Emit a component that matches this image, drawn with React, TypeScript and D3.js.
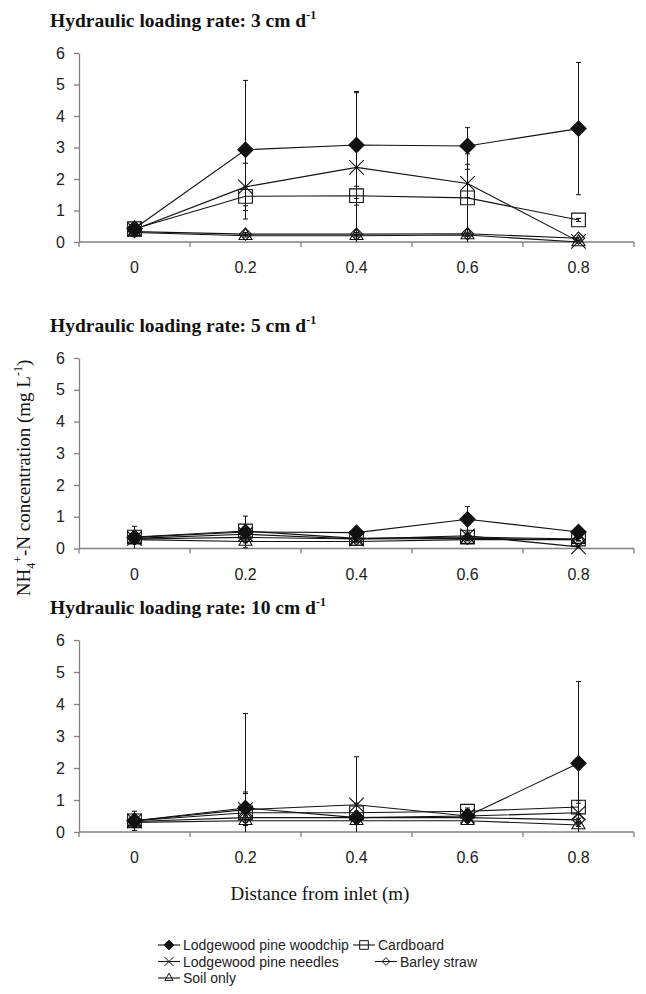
import React, { useEffect, useRef } from 'react'
import * as d3 from 'd3'

const DISTANCES = ['0', '0.2', '0.4', '0.6', '0.8']
const Y_TICKS = [0, 1, 2, 3, 4, 5, 6]
const RATES = ['3', '5', '10']

// Hydraulic loading rate 3 cm/d
const WOODCHIP_3 = [0.43, 2.93, 3.08, 3.05, 3.6]
const WOODCHIP_3_SD = [0.08, 2.2, 1.7, 0.58, 2.1]
const CARDBOARD_3 = [0.42, 1.45, 1.47, 1.4, 0.7]
const CARDBOARD_3_SD = [0.08, 0.3, 0.3, 1.4, 0.05]
const NEEDLES_3 = [0.4, 1.75, 2.37, 1.86, 0.02]
const NEEDLES_3_SD = [0.08, 0.75, 2.37, 0.45, 0.02]
const BARLEY_3 = [0.33, 0.25, 0.25, 0.26, 0.12]
const BARLEY_3_SD = [0.05, 0.05, 0.05, 0.05, 0.03]
const SOIL_3 = [0.3, 0.2, 0.2, 0.22, 0.0]
const SOIL_3_SD = [0.05, 0.04, 0.04, 0.04, 0.0]

// Hydraulic loading rate 5 cm/d
const WOODCHIP_5 = [0.35, 0.52, 0.5, 0.92, 0.52]
const WOODCHIP_5_SD = [0.35, 0.5, 0.08, 0.4, 0.08]
const CARDBOARD_5 = [0.36, 0.55, 0.32, 0.36, 0.3]
const CARDBOARD_5_SD = [0.1, 0.1, 0.05, 0.1, 0.05]
const NEEDLES_5 = [0.32, 0.45, 0.3, 0.4, 0.05]
const NEEDLES_5_SD = [0.05, 0.08, 0.05, 0.05, 0.03]
const BARLEY_5 = [0.3, 0.35, 0.3, 0.32, 0.28]
const BARLEY_5_SD = [0.04, 0.05, 0.04, 0.04, 0.04]
const SOIL_5 = [0.28, 0.22, 0.22, 0.28, 0.28]
const SOIL_5_SD = [0.04, 0.04, 0.04, 0.04, 0.04]

// Hydraulic loading rate 10 cm/d
const WOODCHIP_10 = [0.35, 0.75, 0.45, 0.5, 2.15]
const WOODCHIP_10_SD = [0.3, 2.95, 0.2, 0.2, 2.55]
const CARDBOARD_10 = [0.35, 0.6, 0.6, 0.65, 0.78]
const CARDBOARD_10_SD = [0.2, 0.65, 0.3, 0.1, 0.2]
const NEEDLES_10 = [0.35, 0.7, 0.85, 0.5, 0.6]
const NEEDLES_10_SD = [0.2, 0.5, 1.5, 0.1, 0.3]
const BARLEY_10 = [0.33, 0.45, 0.45, 0.45, 0.38]
const BARLEY_10_SD = [0.05, 0.05, 0.05, 0.05, 0.05]
const SOIL_10 = [0.3, 0.35, 0.35, 0.35, 0.22]
const SOIL_10_SD = [0.05, 0.05, 0.05, 0.05, 0.05]

const PANEL_DATA = [
  {
    woodchip: [WOODCHIP_3, WOODCHIP_3_SD], cardboard: [CARDBOARD_3, CARDBOARD_3_SD],
    needles: [NEEDLES_3, NEEDLES_3_SD], barley: [BARLEY_3, BARLEY_3_SD], soil: [SOIL_3, SOIL_3_SD],
  },
  {
    woodchip: [WOODCHIP_5, WOODCHIP_5_SD], cardboard: [CARDBOARD_5, CARDBOARD_5_SD],
    needles: [NEEDLES_5, NEEDLES_5_SD], barley: [BARLEY_5, BARLEY_5_SD], soil: [SOIL_5, SOIL_5_SD],
  },
  {
    woodchip: [WOODCHIP_10, WOODCHIP_10_SD], cardboard: [CARDBOARD_10, CARDBOARD_10_SD],
    needles: [NEEDLES_10, NEEDLES_10_SD], barley: [BARLEY_10, BARLEY_10_SD], soil: [SOIL_10, SOIL_10_SD],
  },
]

// legend order
const SERIES = [
  { key: 'woodchip', label: 'Lodgewood pine woodchip', symbol: d3.symbolDiamond2, size: 150, fill: '#111' },
  { key: 'cardboard', label: 'Cardboard', symbol: d3.symbolSquare2, size: 240, fill: 'none' },
  { key: 'needles', label: 'Lodgewood pine needles', symbol: d3.symbolX, size: 140, fill: 'none' },
  { key: 'barley', label: 'Barley straw', symbol: d3.symbolDiamond2, size: 95, fill: 'none' },
  { key: 'soil', label: 'Soil only', symbol: d3.symbolTriangle2, size: 120, fill: 'none' },
]
const DRAW_ORDER = ['soil', 'barley', 'needles', 'cardboard', 'woodchip']

const LAYOUT = [
  { top: 53, bottom: 242 },
  { top: 358, bottom: 548.5 },
  { top: 640, bottom: 832 },
]
const LEGEND_ROWS = [
  [{ key: 'woodchip', x: 158 }, { key: 'cardboard', x: 353 }],
  [{ key: 'needles', x: 158 }, { key: 'barley', x: 375 }],
  [{ key: 'soil', x: 158 }],
]

const SANS = 'Liberation Sans, Arial, sans-serif'
const SERIF = 'Liberation Serif, Times New Roman, serif'
const AXIS = '#808080'

export default function App() {
  const svgRef = useRef(null)

  useEffect(() => {
    document.body.style.margin = '0'
    const svg = d3.select(svgRef.current)
    svg.selectAll('*').remove()

    const x = d3.scaleBand().domain(DISTANCES).range([79, 634])
    const cx = d => x(d) + x.bandwidth() / 2

    LAYOUT.forEach((lay, pi) => {
      const y = d3.scaleLinear().domain([0, 6]).range([lay.bottom, lay.top])
      const g = svg.append('g')

      // panel title
      const t = g.append('text')
        .attr('x', 50).attr('y', lay.top - 26)
        .attr('font-family', SERIF).attr('font-weight', 'bold').attr('font-size', 19.5)
        .attr('fill', '#111')
      t.append('tspan').text(`Hydraulic loading rate: ${RATES[pi]} cm d`)
      t.append('tspan').attr('font-size', 12).attr('dy', -8).text('-1')

      // y axis
      const ya = g.append('g')
        .attr('transform', 'translate(79,0)')
        .call(d3.axisLeft(y).tickValues(Y_TICKS).tickFormat(d3.format('d'))
          .tickSize(5).tickSizeOuter(0).tickPadding(9))
      ya.select('.domain').attr('stroke', AXIS).attr('stroke-width', 1.3)
      ya.selectAll('.tick line').attr('stroke', AXIS).attr('stroke-width', 1.3)
      ya.selectAll('.tick text')
        .attr('font-family', SANS).attr('font-size', 16).attr('fill', '#222')

      // x axis, ticks between categories
      const y0 = y(0)
      g.append('line')
        .attr('x1', x.range()[0]).attr('x2', x.range()[1])
        .attr('y1', y0).attr('y2', y0)
        .attr('stroke', AXIS).attr('stroke-width', 1.3)
      const bounds = [...DISTANCES.map(d => x(d)), x.range()[1]]
      g.selectAll('.xtick').data(bounds).join('line')
        .attr('x1', d => d).attr('x2', d => d)
        .attr('y1', y0).attr('y2', y0 + 5)
        .attr('stroke', AXIS).attr('stroke-width', 1.3)
      g.selectAll('.xlab').data(DISTANCES).join('text')
        .attr('x', d => cx(d)).attr('y', y0 + 31)
        .attr('text-anchor', 'middle')
        .attr('font-family', SANS).attr('font-size', 16).attr('fill', '#222')
        .text(d => d)

      const line = d3.line().x((_, i) => cx(DISTANCES[i])).y(v => y(v))

      // error bars first, beneath lines
      DRAW_ORDER.forEach(key => {
        const [vals, sd] = PANEL_DATA[pi][key]
        vals.forEach((v, i) => {
          const e = sd[i]
          if (!e) return
          const xc = cx(DISTANCES[i])
          const lo = Math.max(0, v - e)
          const hi = v + e
          g.append('line')
            .attr('x1', xc).attr('x2', xc).attr('y1', y(lo)).attr('y2', y(hi))
            .attr('stroke', '#111').attr('stroke-width', 1)
          g.append('line')
            .attr('x1', xc - 2.5).attr('x2', xc + 2.5).attr('y1', y(hi)).attr('y2', y(hi))
            .attr('stroke', '#111').attr('stroke-width', 1)
          if (lo > 0) {
            g.append('line')
              .attr('x1', xc - 2.5).attr('x2', xc + 2.5).attr('y1', y(lo)).attr('y2', y(lo))
              .attr('stroke', '#111').attr('stroke-width', 1)
          }
        })
      })

      DRAW_ORDER.forEach(key => {
        const s = SERIES.find(d => d.key === key)
        const [vals] = PANEL_DATA[pi][key]
        g.append('path')
          .attr('d', line(vals))
          .attr('fill', 'none').attr('stroke', '#111').attr('stroke-width', 1.1)
        g.selectAll(null).data(vals).join('path')
          .attr('transform', (v, i) => `translate(${cx(DISTANCES[i])},${y(v)})`)
          .attr('d', d3.symbol(s.symbol, s.size)())
          .attr('fill', s.fill).attr('stroke', '#111').attr('stroke-width', 1.1)
      })
    })

    // axis titles
    svg.append('text')
      .attr('x', 320).attr('y', 900)
      .attr('text-anchor', 'middle')
      .attr('font-family', SERIF).attr('font-size', 19).attr('fill', '#111')
      .text('Distance from inlet (m)')

    const yt = svg.append('text')
      .attr('transform', 'translate(30,478) rotate(-90)')
      .attr('text-anchor', 'middle')
      .attr('font-family', SERIF).attr('font-size', 19).attr('fill', '#111')
    yt.append('tspan').text('NH')
    yt.append('tspan').attr('font-size', 12).attr('dy', 5).text('4')
    yt.append('tspan').attr('font-size', 12).attr('dy', -13).text('+')
    yt.append('tspan').attr('dy', 8).text('-N concentration (mg L')
    yt.append('tspan').attr('font-size', 12).attr('dy', -8).text('-1')
    yt.append('tspan').attr('dy', 8).text(')')

    // legend
    LEGEND_ROWS.forEach((row, ri) => {
      const ly = 945 + ri * 16.5
      row.forEach(item => {
        const s = SERIES.find(d => d.key === item.key)
        const lg = svg.append('g').attr('transform', `translate(${item.x},${ly})`)
        lg.append('line').attr('x1', 0).attr('x2', 22).attr('y1', 0).attr('y2', 0)
          .attr('stroke', '#111').attr('stroke-width', 1.1)
        lg.append('path')
          .attr('transform', 'translate(11,0)')
          .attr('d', d3.symbol(s.symbol, s.size * 0.4)())
          .attr('fill', s.fill).attr('stroke', '#111').attr('stroke-width', 1)
        lg.append('text')
          .attr('x', 25).attr('y', 5)
          .attr('font-family', SANS).attr('font-size', 14).attr('fill', '#222')
          .text(s.label)
      })
    })
  }, [])

  return <svg ref={svgRef} width={646} height={994} style={{ display: 'block', background: '#fff' }} />
}
